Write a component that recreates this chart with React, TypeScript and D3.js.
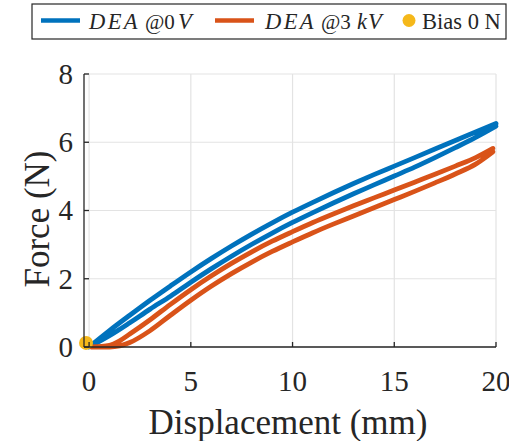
import React from "react";
import * as d3 from "d3";

const xTicks = [0, 5, 10, 15, 20];
const yTicks = [0, 2, 4, 6, 8];

// Displacement (mm) and Force (N)
const dispBlue = [0, 1, 2, 3, 4, 5, 6, 7, 8, 9, 10, 11, 12, 13, 14, 15, 16, 17, 18, 19, 20];
const blueUpper = [0, 0.48, 0.93, 1.37, 1.79, 2.2, 2.59, 2.96, 3.31, 3.64, 3.95, 4.24, 4.52, 4.79, 5.05, 5.3, 5.55, 5.8, 6.05, 6.3, 6.55];
const blueLower = [0, 0.33, 0.71, 1.11, 1.49, 1.9, 2.29, 2.66, 3.01, 3.34, 3.65, 3.94, 4.22, 4.49, 4.75, 5.01, 5.27, 5.55, 5.84, 6.14, 6.47];

const dispOrange = [0.1, 1, 1.5, 2, 3, 4, 5, 6, 7, 8, 9, 10, 11, 12, 13, 14, 15, 16, 17, 18, 19, 19.85];
const orangeUpper = [0, 0.05, 0.18, 0.38, 0.8, 1.25, 1.68, 2.08, 2.45, 2.79, 3.1, 3.38, 3.65, 3.9, 4.14, 4.37, 4.6, 4.83, 5.06, 5.3, 5.55, 5.82];
const orangeLower = [0, 0, 0.03, 0.13, 0.48, 0.93, 1.37, 1.78, 2.15, 2.49, 2.8, 3.08, 3.35, 3.6, 3.84, 4.08, 4.32, 4.56, 4.81, 5.07, 5.36, 5.72];

const biasPoint = [-0.15, 0.12];

const legendLabels = ["DEA", "@0", "V", "DEA", "@3", "kV", "Bias 0 N"];

const BLUE = "#0072BD";
const ORANGE = "#D95319";
const YELLOW = "#F5B81A";
const AXIS = "#262626";
const GRID = "#e3e3e3";
const FONT = "'Liberation Serif', 'DejaVu Serif', serif";

export default function App() {
  const x = d3.scaleLinear().domain([-0.25, 20]).range([84, 496]);
  const y = d3.scaleLinear().domain([0, 8]).range([347, 74]);

  const branch = (xs: number[], ys: number[]) =>
    d3
      .line<number>()
      .x((_, i) => x(xs[i]))
      .y((v) => y(v))
      .curve(d3.curveMonotoneX)(ys) as string;

  const loop = (xs: number[], up: number[], lo: number[]) =>
    branch(xs, up) + branch(xs, lo);

  const x0 = x(-0.25);
  const x1 = x(20);
  const y0 = y(0);
  const y1 = y(8);

  return (
    <svg
      width={509}
      height={441}
      style={{ position: "absolute", left: 0, top: 0, background: "#fff" }}
      fontFamily={FONT}
    >
      {/* grid */}
      {xTicks.map((t) => (
        <line key={"gx" + t} x1={x(t)} x2={x(t)} y1={y0} y2={y1} stroke={GRID} strokeWidth={1.2} />
      ))}
      {yTicks.map((t) => (
        <line key={"gy" + t} x1={x0} x2={x1} y1={y(t)} y2={y(t)} stroke={GRID} strokeWidth={1.2} />
      ))}

      {/* data */}
      <path d={loop(dispBlue, blueUpper, blueLower)} fill="none" stroke={BLUE} strokeWidth={4.8} strokeLinecap="round" strokeLinejoin="round" />
      <path d={loop(dispOrange, orangeUpper, orangeLower)} fill="none" stroke={ORANGE} strokeWidth={4.8} strokeLinecap="round" strokeLinejoin="round" />
      <circle cx={x(biasPoint[0])} cy={y(biasPoint[1])} r={7} fill={YELLOW} />

      {/* axes */}
      <line x1={x0} x2={x0} y1={y1} y2={y0} stroke={AXIS} strokeWidth={1.3} />
      <line x1={x0} x2={x1} y1={y0} y2={y0} stroke={AXIS} strokeWidth={1.3} />
      {xTicks.map((t) => (
        <line key={"tx" + t} x1={x(t)} x2={x(t)} y1={y0} y2={y0 - 5} stroke={AXIS} strokeWidth={1.3} />
      ))}
      {yTicks.map((t) => (
        <line key={"ty" + t} x1={x0} x2={x0 + 5} y1={y(t)} y2={y(t)} stroke={AXIS} strokeWidth={1.3} />
      ))}

      {/* tick labels */}
      {xTicks.map((t) => (
        <text key={"lx" + t} x={x(t)} y={391} textAnchor="middle" fontSize={29} fill={AXIS}>
          {t}
        </text>
      ))}
      {yTicks.map((t) => (
        <text key={"ly" + t} x={73} y={y(t)} dy="0.34em" textAnchor="end" fontSize={29} fill={AXIS}>
          {t}
        </text>
      ))}

      {/* axis labels */}
      <text x={288} y={434} textAnchor="middle" fontSize={35} fill={AXIS}>
        Displacement (mm)
      </text>
      <text transform="translate(49,219) rotate(-90)" textAnchor="middle" fontSize={35} fill={AXIS}>
        Force (N)
      </text>

      {/* legend */}
      <rect x={32} y={4} width={474} height={35} fill="#fff" stroke={AXIS} strokeWidth={1.2} />
      <line x1={41} x2={80} y1={20.5} y2={20.5} stroke={BLUE} strokeWidth={4.5} />
      <text y={28.5} fontSize={22.5} fill={AXIS}>
        <tspan x={89} fontStyle="italic" letterSpacing={2.4}>{legendLabels[0]}</tspan>
        <tspan x={145} fontSize={21}>{legendLabels[1]}</tspan>
        <tspan x={178} fontStyle="italic">{legendLabels[2]}</tspan>
      </text>
      <line x1={215} x2={254} y1={20.5} y2={20.5} stroke={ORANGE} strokeWidth={4.5} />
      <text y={28.5} fontSize={22.5} fill={AXIS}>
        <tspan x={265} fontStyle="italic" letterSpacing={2.4}>{legendLabels[3]}</tspan>
        <tspan x={321} fontSize={21}>{legendLabels[4]}</tspan>
        <tspan x={357} fontStyle="italic" letterSpacing={1}>{legendLabels[5]}</tspan>
      </text>
      <circle cx={409} cy={20.5} r={6.5} fill={YELLOW} />
      <text x={422} y={28.5} fontSize={22.5} fill={AXIS}>
        {legendLabels[6]}
      </text>
    </svg>
  );
}
